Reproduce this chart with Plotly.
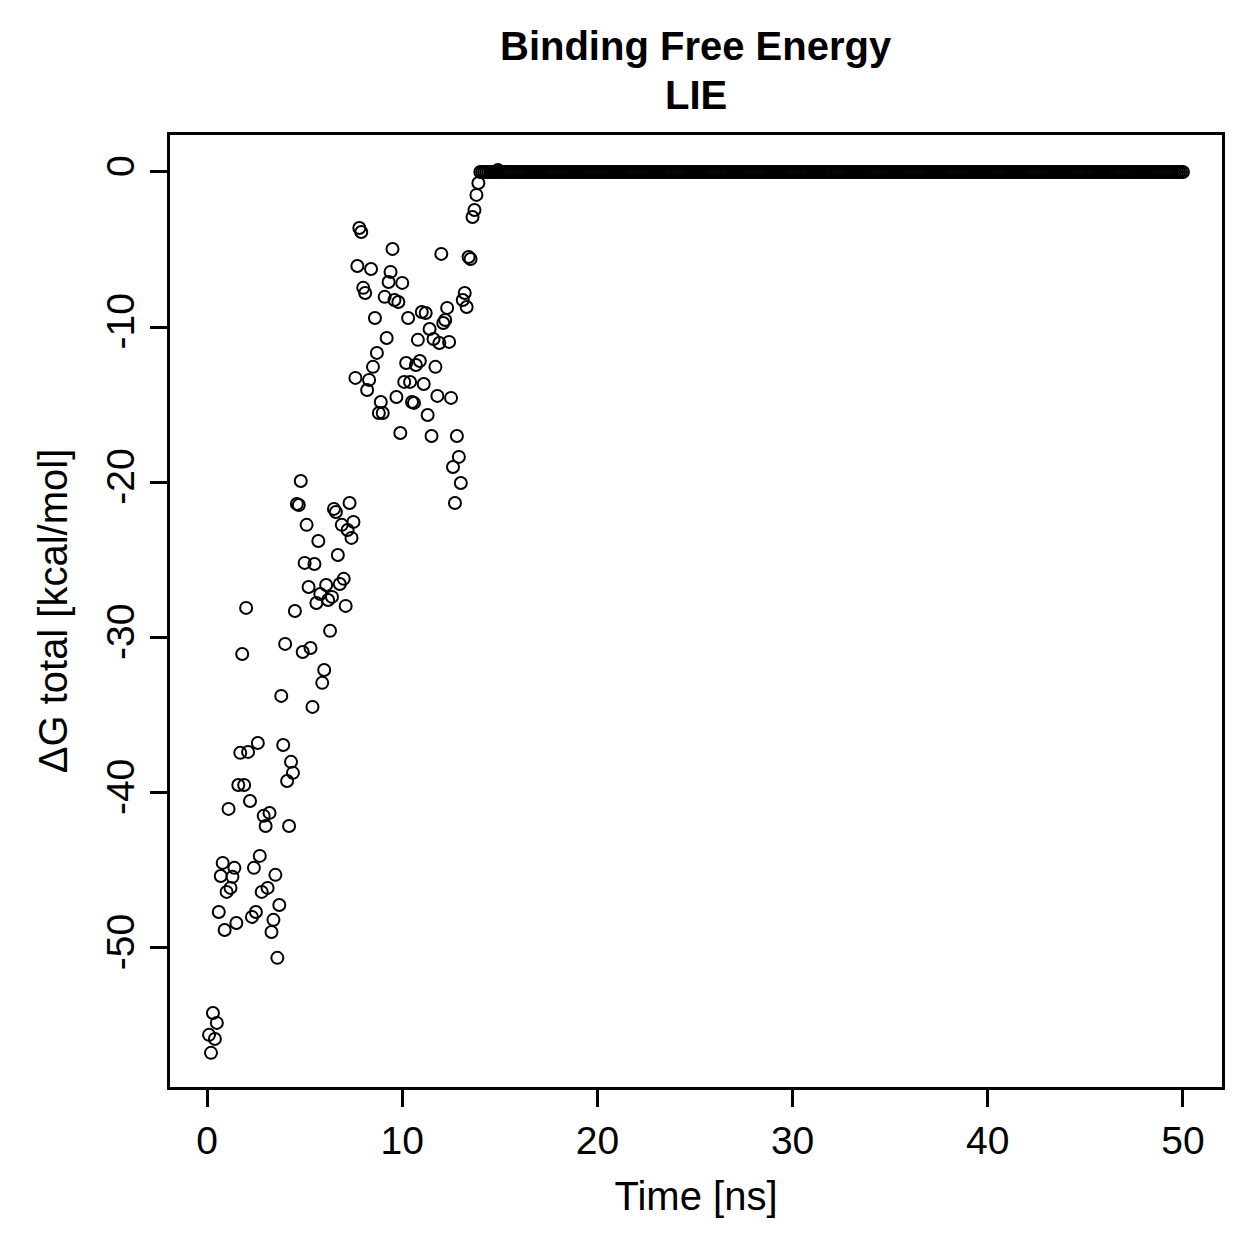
import numpy as np
import plotly.graph_objects as go

# Time axis: frames every 0.1 ns from 0.1 to 50.0 ns
time_ns = np.round(np.arange(1, 501) * 0.1, 1)

# Delta G total (kcal/mol), 0.1 .. 13.9 ns
dg_early = [
    -55.60, -56.76, -54.19, -55.86, -54.83, -47.68, -45.36, -44.52, -48.84, -46.39,
    -41.04, -46.13, -45.42, -44.84, -48.39, -39.50, -37.43, -31.06, -39.50, -28.09,
    -37.37, -40.53, -48.00, -44.84, -47.68, -36.79, -44.07, -46.39, -41.49, -42.14,
    -46.13, -41.30, -48.97, -48.19, -45.29, -50.64, -47.23, -33.76, -36.92, -30.41,
    -39.24, -42.14, -38.01, -38.72, -28.29, -21.39, -21.46, -19.91, -30.93, -25.19,
    -22.74, -26.74, -30.67, -34.47, -25.26, -27.77, -23.78, -27.19, -32.92, -32.09,
    -26.61, -27.58, -29.57, -27.38, -21.71, -21.91, -24.68, -26.55, -22.74, -26.22,
    -27.96, -23.07, -21.33, -23.58, -22.55, -13.27, -6.06, -3.61, -3.87, -7.47,
    -7.80, -14.05, -13.40, -6.25, -12.56, -9.41, -11.66, -15.53, -14.82, -15.53,
    -8.05, -10.70, -7.09, -6.44, -4.96, -8.25, -14.50, -8.38, -16.82, -7.15,
    -13.53, -12.31, -9.41, -13.53, -14.82, -14.88, -12.44, -10.82, -12.18, -9.02,
    -13.66, -9.09, -15.66, -10.12, -17.01, -10.76, -12.56, -14.43, -11.02, -5.28,
    -9.73, -9.54, -8.76, -10.95, -14.56, -19.01, -21.33, -17.01, -18.36, -20.04,
    -8.25, -7.80, -8.70, -5.48, -5.61, -2.90, -2.45, -1.48, -0.71,
]
# 14.0 .. 50.0 ns: ligand unbound, value 0 (one slightly positive point near 14.9 ns)
dg_late = [0.0] * 361
dg_late[9] = 0.12

dg_total = dg_early + dg_late

x_ticks = [0, 10, 20, 30, 40, 50]
y_ticks = [0, -10, -20, -30, -40, -50]
y_tick_labels = ["0", "-10", "-20", "-30", "-40", "-50"]
title_lines = ["Binding Free Energy", "LIE"]

fig = go.Figure()
fig.add_trace(go.Scatter(
    x=time_ns, y=dg_total, mode="markers",
    marker=dict(symbol="circle-open", size=12, color="black",
                line=dict(width=2, color="black")),
    showlegend=False, hoverinfo="x+y",
))

font_family = "Liberation Sans, Arial, Helvetica, sans-serif"

for txt, ypos in zip(title_lines, [1.0935, 1.042]):
    fig.add_annotation(
        text=f"<b>{txt}</b>", x=0.5, xref="paper", y=ypos, yref="paper",
        xanchor="center", yanchor="middle", showarrow=False,
        font=dict(family=font_family, size=40, color="black"),
    )

fig.update_layout(
    width=1259, height=1259,
    paper_bgcolor="white", plot_bgcolor="white",
    margin=dict(l=170, r=37, t=135, b=172),
    font=dict(family=font_family, size=40, color="black"),
    xaxis=dict(
        range=[-1.9, 52.0], tickvals=x_ticks,
        ticks="outside", ticklen=17, tickwidth=3, tickcolor="black",
        showline=True, linewidth=3, linecolor="black", mirror=True,
        showgrid=False, zeroline=False,
        tickfont=dict(size=39),
        title=dict(text="Time [ns]", font=dict(size=40), standoff=22),
    ),
    yaxis=dict(
        range=[-58.96, 2.38], tickvals=y_ticks, ticktext=y_tick_labels,
        ticks="outside", ticklen=17, tickwidth=3, tickcolor="black",
        showline=True, linewidth=3, linecolor="black", mirror=True,
        showgrid=False, zeroline=False, tickangle=-90,
        tickfont=dict(size=39),
        title=dict(text="ΔG total [kcal/mol]", font=dict(size=40), standoff=20),
    ),
)

fig.write_html("out.html")
